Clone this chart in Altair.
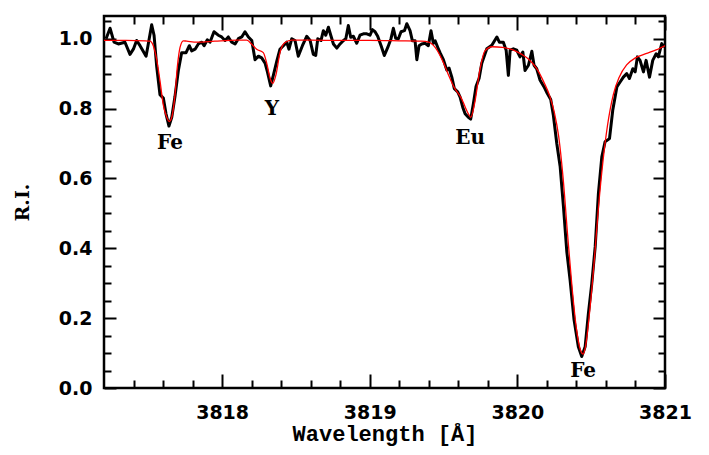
import altair as alt
import pandas as pd

# Observed spectrum (black)
obs_wave = [3817.214, 3817.241, 3817.268, 3817.297, 3817.342, 3817.376, 3817.399, 3817.421,
            3817.444, 3817.485, 3817.500, 3817.523, 3817.539, 3817.557, 3817.579, 3817.602,
            3817.620, 3817.640, 3817.659, 3817.681, 3817.704, 3817.726, 3817.756, 3817.778,
            3817.794, 3817.817, 3817.839, 3817.862, 3817.878, 3817.900, 3817.918, 3817.945,
            3817.974, 3817.997, 3818.020, 3818.042, 3818.065, 3818.088, 3818.110, 3818.133,
            3818.155, 3818.178, 3818.201, 3818.223, 3818.246, 3818.268, 3818.291, 3818.307,
            3818.329, 3818.347, 3818.370, 3818.392, 3818.415, 3818.438, 3818.453, 3818.472,
            3818.494, 3818.516, 3818.544, 3818.573, 3818.596, 3818.618, 3818.634, 3818.648,
            3818.670, 3818.686, 3818.702, 3818.720, 3818.736, 3818.754, 3818.777, 3818.799,
            3818.822, 3818.838, 3818.855, 3818.871, 3818.889, 3818.912, 3818.934, 3818.957,
            3818.980, 3819.002, 3819.018, 3819.036, 3819.054, 3819.077, 3819.099, 3819.122,
            3819.144, 3819.160, 3819.176, 3819.194, 3819.212, 3819.235, 3819.251, 3819.273,
            3819.289, 3819.307, 3819.319, 3819.334, 3819.352, 3819.375, 3819.397, 3819.415,
            3819.431, 3819.443, 3819.461, 3819.476, 3819.499, 3819.522, 3819.537, 3819.556,
            3819.573, 3819.596, 3819.612, 3819.630, 3819.646, 3819.668, 3819.684, 3819.702,
            3819.720, 3819.741, 3819.759, 3819.793, 3819.827, 3819.861, 3819.878, 3819.905,
            3819.924, 3819.939, 3819.951, 3819.973, 3819.996, 3820.018, 3820.037, 3820.052,
            3820.075, 3820.098, 3820.113, 3820.131, 3820.154, 3820.181, 3820.203, 3820.226,
            3820.244, 3820.267, 3820.290, 3820.312, 3820.335, 3820.357, 3820.384, 3820.413,
            3820.436, 3820.459, 3820.481, 3820.504, 3820.527, 3820.549, 3820.572, 3820.594,
            3820.624, 3820.646, 3820.674, 3820.696, 3820.718, 3820.741, 3820.759, 3820.782,
            3820.798, 3820.813, 3820.831, 3820.854, 3820.872, 3820.895, 3820.917, 3820.940,
            3820.955, 3820.978, 3820.994]
obs_flux = [1.000, 1.030, 0.990, 0.985, 0.990, 0.955, 0.970, 0.995,
            0.980, 0.950, 0.985, 1.040, 1.010, 0.920, 0.840, 0.830,
            0.785, 0.750, 0.775, 0.835, 0.910, 0.960, 0.960, 0.980,
            0.965, 0.970, 0.985, 0.990, 0.980, 0.997, 0.990, 1.020,
            1.010, 1.005, 0.995, 1.005, 0.990, 0.985, 1.000, 1.005,
            1.020, 1.005, 0.995, 0.940, 0.950, 0.945, 0.930, 0.905,
            0.865, 0.895, 0.935, 0.970, 0.980, 0.990, 0.970, 1.000,
            0.995, 0.950, 0.980, 1.007, 0.995, 0.955, 0.952, 1.000,
            0.995, 1.023, 1.010, 1.033, 1.010, 0.985, 0.973, 0.985,
            0.995, 1.000, 1.038, 1.004, 1.007, 0.987, 1.010, 1.014,
            1.014, 1.010, 1.026, 1.020, 1.007, 0.980, 0.952, 0.975,
            1.000, 1.030, 1.001, 1.000, 1.020, 1.023, 1.043, 1.023,
            0.994, 0.994, 0.940, 0.980, 0.985, 0.987, 0.980, 1.023,
            0.987, 0.994, 0.975, 0.960, 0.940, 0.910, 0.916, 0.890,
            0.857, 0.848, 0.833, 0.804, 0.785, 0.775, 0.770, 0.814,
            0.863, 0.887, 0.930, 0.971, 0.981, 1.005, 0.990, 0.990,
            0.967, 0.895, 0.967, 0.971, 0.967, 0.948, 0.962, 0.909,
            0.924, 0.964, 0.924, 0.914, 0.881, 0.862, 0.843, 0.826,
            0.780, 0.700, 0.633, 0.520, 0.390, 0.310, 0.195, 0.118,
            0.090, 0.118, 0.213, 0.299, 0.404, 0.557, 0.662, 0.705,
            0.714, 0.795, 0.862, 0.876, 0.890, 0.900, 0.886, 0.914,
            0.905, 0.948, 0.938, 0.905, 0.938, 0.890, 0.938, 0.957,
            0.948, 0.986, 0.976]

# Synthetic fit (red)
fit_wave = [3817.20, 3817.35, 3817.48, 3817.512, 3817.534, 3817.557, 3817.579, 3817.602,
            3817.625, 3817.642, 3817.659, 3817.681, 3817.697, 3817.715, 3817.737, 3817.76,
            3817.83, 3817.95, 3818.10, 3818.167, 3818.201, 3818.234, 3818.279, 3818.302,
            3818.325, 3818.343, 3818.365, 3818.392, 3818.426, 3818.472, 3818.60, 3818.80,
            3819.00, 3819.20, 3819.35, 3819.40, 3819.443, 3819.49, 3819.53, 3819.57,
            3819.62, 3819.668, 3819.684, 3819.71, 3819.746, 3819.78, 3819.83, 3819.90,
            3819.97, 3820.03, 3820.08, 3820.13, 3820.18, 3820.22, 3820.25, 3820.28,
            3820.31, 3820.34, 3820.37, 3820.40, 3820.43, 3820.445, 3820.46, 3820.49,
            3820.52, 3820.55, 3820.58, 3820.61, 3820.65, 3820.69, 3820.74, 3820.80,
            3820.87, 3820.94, 3821.00]
fit_flux = [0.995, 0.995, 0.994, 0.993, 0.980, 0.940, 0.880, 0.810,
            0.775, 0.763, 0.775, 0.840, 0.920, 0.975, 0.994, 0.993,
            0.990, 0.993, 0.996, 0.996, 0.984, 0.970, 0.960, 0.930,
            0.887, 0.872, 0.897, 0.960, 0.989, 0.996, 0.996, 0.995,
            0.995, 0.994, 0.993, 0.990, 0.975, 0.940, 0.900, 0.862,
            0.830, 0.785, 0.775, 0.814, 0.911, 0.965, 0.977, 0.975,
            0.968, 0.955, 0.940, 0.915, 0.875, 0.835, 0.790, 0.720,
            0.600, 0.440, 0.290, 0.170, 0.105, 0.097, 0.115, 0.220,
            0.360, 0.520, 0.650, 0.750, 0.840, 0.890, 0.925, 0.945,
            0.957, 0.968, 0.980]

# Line identifications
line_names = ["Fe", "Y", "Eu", "Fe"]
line_wave = [3817.647, 3818.338, 3819.68, 3820.445]
line_flux = [0.700, 0.800, 0.715, 0.050]

x_major = [3818, 3819, 3820, 3821]
x_minor = [3817.4, 3817.6, 3817.8, 3818.2, 3818.4, 3818.6, 3818.8, 3819.2, 3819.4,
           3819.6, 3819.8, 3820.2, 3820.4, 3820.6, 3820.8]
y_major = [0.0, 0.2, 0.4, 0.6, 0.8, 1.0]
y_minor = [0.05, 0.10, 0.15, 0.25, 0.30, 0.35, 0.45, 0.50, 0.55, 0.65, 0.70, 0.75,
           0.85, 0.90, 0.95, 1.05]

obs = pd.DataFrame({"wave": obs_wave, "flux": obs_flux})
fit = pd.DataFrame({"wave": fit_wave, "flux": fit_flux})
labels = pd.DataFrame({"wave": line_wave, "flux": line_flux, "name": line_names})

XDOM = [3817.2, 3821.0]
YDOM = [0.0, 1.065]
xscale = alt.Scale(domain=XDOM, nice=False, zero=False)
yscale = alt.Scale(domain=YDOM, nice=False, zero=False)

common_tick = dict(grid=False, domain=False, tickColor="black", tickWidth=2)

x_bottom_major = alt.Axis(orient="bottom", values=x_major, offset=-14, tickSize=14,
                          format="d", labelFont="DejaVu Sans", labelFontWeight="bold",
                          labelFontSize=19, labelColor="black", labelPadding=15,
                          labelFlush=False, labelOverlap=False,
                          title="Wavelength [Å]", titleFont="Liberation Mono",
                          titleFontWeight="bold", titleFontSize=22, titleColor="black",
                          titlePadding=1, **common_tick)
y_left_major = alt.Axis(orient="left", values=y_major, offset=-12, tickSize=12,
                        format=".1f", labelFont="DejaVu Sans", labelFontWeight="bold",
                        labelFontSize=19, labelColor="black", labelPadding=12,
                        labelFlush=False, labelOverlap=False,
                        title="R.I.", titleFont="DejaVu Serif", titleFontWeight="bold",
                        titleFontSize=19, titleColor="black", titlePadding=26,
                        **common_tick)
x_bottom_minor = alt.Axis(orient="bottom", values=x_minor, offset=-8, tickSize=8,
                          labels=False, title=None, **common_tick)
y_left_minor = alt.Axis(orient="left", values=y_minor, offset=-7, tickSize=7,
                        labels=False, title=None, **common_tick)
x_top_major = alt.Axis(orient="top", values=x_major, offset=-14, tickSize=14,
                       labels=False, title=None, **common_tick)
y_right_major = alt.Axis(orient="right", values=y_major, offset=-12, tickSize=12,
                         labels=False, title=None, **common_tick)
x_top_minor = alt.Axis(orient="top", values=x_minor, offset=-8, tickSize=8,
                       labels=False, title=None, **common_tick)
y_right_minor = alt.Axis(orient="right", values=y_minor, offset=-7, tickSize=7,
                         labels=False, title=None, **common_tick)

obs_line = alt.Chart(obs).mark_line(color="black", strokeWidth=3, clip=True,
                                    strokeJoin="round").encode(
    x=alt.X("wave:Q", scale=xscale, axis=x_bottom_major),
    y=alt.Y("flux:Q", scale=yscale, axis=y_left_major),
)

fit_line = alt.Chart(fit).mark_line(color="#ff0000", strokeWidth=1.3, clip=True,
                                    interpolate="monotone").encode(
    x=alt.X("wave:Q", scale=xscale, axis=x_bottom_minor),
    y=alt.Y("flux:Q", scale=yscale, axis=y_left_minor),
)

text = alt.Chart(labels).mark_text(font="DejaVu Serif", fontWeight="bold", fontSize=20,
                                   color="black", align="center",
                                   baseline="middle").encode(
    x=alt.X("wave:Q", scale=xscale, axis=x_top_major),
    y=alt.Y("flux:Q", scale=yscale, axis=y_right_major),
    text="name:N",
)

ghost = alt.Chart(fit).mark_point(opacity=0).encode(
    x=alt.X("wave:Q", scale=xscale, axis=x_top_minor),
    y=alt.Y("flux:Q", scale=yscale, axis=y_right_minor),
)

chart = alt.layer(obs_line, fit_line, text, ghost).resolve_axis(
    x="independent", y="independent"
).properties(
    width=561, height=372,
    padding={"left": 96, "top": 8, "right": 30, "bottom": 59},
    autosize=alt.AutoSizeParams(type="none"),
    background="white",
).configure_view(stroke="black", strokeWidth=2.5)

chart.save("out.html", embed_options={"renderer": "svg", "actions": False})
